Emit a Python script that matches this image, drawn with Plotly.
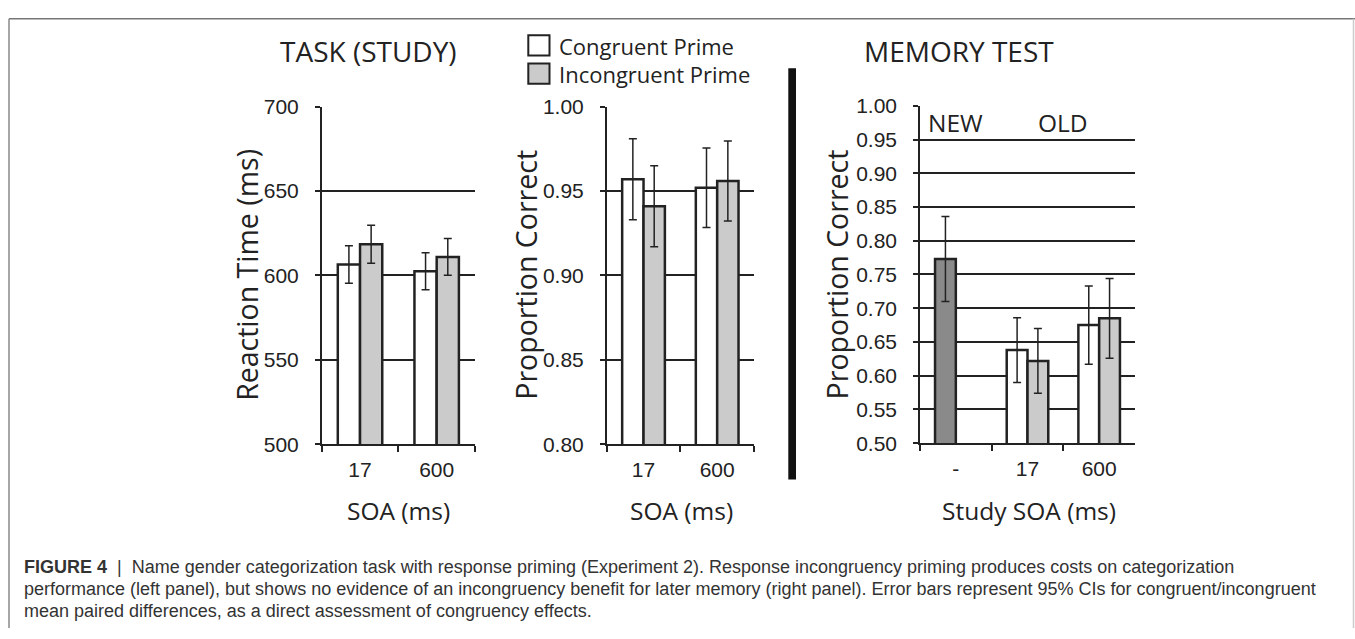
import plotly.graph_objects as go

# ---------------- data ----------------
soa = ['17', '600']
study_soa = ['-', '17', '600']

rt_congruent = [606.5, 602.5]
rt_incongruent = [618.5, 611.0]
rt_ci_congruent = [11.1, 10.9]
rt_ci_incongruent = [11.2, 10.9]

pc_congruent = [0.957, 0.952]
pc_incongruent = [0.941, 0.956]
pc_ci_congruent = [0.024, 0.0236]
pc_ci_incongruent = [0.024, 0.0237]

mem_new = [0.773]
mem_new_ci = [0.063]
mem_congruent = [0.638, 0.675]
mem_incongruent = [0.622, 0.685]
mem_ci_congruent = [0.048, 0.058]
mem_ci_incongruent = [0.048, 0.059]

legend_labels = ['Congruent Prime', 'Incongruent Prime']
caption_lines = [
    "<b>FIGURE 4</b>  |  Name gender categorization task with response priming (Experiment 2). Response incongruency priming produces costs on categorization",
    "performance (left panel), but shows no evidence of an incongruency benefit for later memory (right panel). Error bars represent 95% CIs for congruent/incongruent",
    "mean paired differences, as a direct assessment of congruency effects.",
]

# ---------------- style ----------------
W, H = 1355, 639
INK = '#222222'
WHITE = '#ffffff'
LIGHT = '#cbcbcb'
DARK = '#8a8a8a'
TITLE_FONT = 'Open Sans'
TICK_FONT = 'Liberation Sans'


def px_x(a):
    return a / W


def px_y(a):
    return 1 - a / H


def xd(a, b):
    return [a / W, b / W]


def yd(top, bottom):
    return [1 - bottom / H, 1 - top / H]


def bar(x, y, err, color, xa, ya, group):
    return go.Bar(
        x=x, y=y, xaxis=xa, yaxis=ya, offsetgroup=group,
        marker=dict(color=color, line=dict(color=INK, width=2.5)),
        error_y=dict(type='data', array=err, visible=True, color=INK,
                     thickness=1.5, width=4),
        showlegend=False, hoverinfo='skip',
    )


fig = go.Figure()
fig.add_trace(bar(soa, rt_congruent, rt_ci_congruent, WHITE, 'x', 'y', 'c'))
fig.add_trace(bar(soa, rt_incongruent, rt_ci_incongruent, LIGHT, 'x', 'y', 'i'))
fig.add_trace(bar(soa, pc_congruent, pc_ci_congruent, WHITE, 'x2', 'y2', 'c'))
fig.add_trace(bar(soa, pc_incongruent, pc_ci_incongruent, LIGHT, 'x2', 'y2', 'i'))
fig.add_trace(bar(study_soa[:1], mem_new, mem_new_ci, DARK, 'x3', 'y3', 'c'))
fig.add_trace(bar(study_soa[1:], mem_congruent, mem_ci_congruent, WHITE, 'x3', 'y3', 'c'))
fig.add_trace(bar(study_soa[1:], mem_incongruent, mem_ci_incongruent, LIGHT, 'x3', 'y3', 'i'))

xaxis_common = dict(
    type='category', showline=True, linecolor=INK, linewidth=1.5,
    ticks='outside', tickson='boundaries', ticklen=6, tickwidth=1.5, tickcolor=INK,
    showgrid=False, zeroline=False, fixedrange=True,
    tickfont=dict(family=TICK_FONT, size=21, color=INK), ticklabelstandoff=6,
)
yaxis_common = dict(
    showline=True, linecolor=INK, linewidth=1.5,
    ticks='outside', ticklen=5, tickwidth=1.5, tickcolor=INK,
    showgrid=True, gridcolor=INK, gridwidth=1.5, zeroline=False, fixedrange=True,
    tickfont=dict(family=TICK_FONT, size=21, color=INK), ticklabelstandoff=12,
)

fig.update_layout(
    width=W, height=H, margin=dict(l=0, r=0, t=0, b=0),
    paper_bgcolor='white', plot_bgcolor='white',
    barmode='group', bargap=0.42, bargroupgap=0,
    showlegend=False,
    xaxis=dict(xaxis_common, domain=xd(321.7, 475), anchor='y',
               categoryorder='array', categoryarray=soa, range=[-0.5, 1.5]),
    yaxis=dict(yaxis_common, domain=yd(98.3, 448.3), anchor='x',
               range=[500, 700], dtick=50),
    xaxis2=dict(xaxis_common, domain=xd(606.7, 754), anchor='y2',
                categoryorder='array', categoryarray=soa, range=[-0.5, 1.5]),
    yaxis2=dict(yaxis_common, domain=yd(98.3, 448.3), anchor='x2',
                range=[0.80, 1.00], dtick=0.05, tickformat='.2f'),
    xaxis3=dict(xaxis_common, domain=xd(920, 1135), anchor='y3',
                categoryorder='array', categoryarray=study_soa, range=[-0.5, 2.5]),
    yaxis3=dict(yaxis_common, domain=yd(97.3, 447.3), anchor='x3',
                range=[0.50, 1.00], dtick=0.05, tickformat='.2f'),
)

ann = []


def text(x, y, s, size, family=TITLE_FONT, angle=0, xanchor='center', color=INK):
    ann.append(dict(x=px_x(x), y=px_y(y), xref='paper', yref='paper', text=s,
                    showarrow=False, textangle=angle, xanchor=xanchor, yanchor='middle',
                    font=dict(family=family, size=size, color=color)))


# panel titles
text(368, 40, 'TASK (STUDY)', 28)
text(959, 40, 'MEMORY TEST', 28)
# y titles
text(246.7, 273, 'Reaction Time (ms)', 28.5, angle=-90)
text(526, 272.5, 'Proportion Correct', 28.5, angle=-90)
text(836.7, 272.5, 'Proportion Correct', 28.5, angle=-90)
# x titles
text(398, 517, 'SOA (ms)', 24.5)
text(681, 517, 'SOA (ms)', 24.5)
text(1028.6, 517, 'Study SOA (ms)', 24.5)
# legend labels
text(556.7, 35, legend_labels[0], 22, xanchor='left')
text(556.7, 64, legend_labels[1], 22, xanchor='left')

# NEW / OLD labels in data coordinates of the memory panel
ann.append(dict(x=0, y=0.975, xref='x3', yref='y3', text='NEW', showarrow=False,
                xanchor='center', yanchor='middle',
                font=dict(family=TITLE_FONT, size=24.5, color=INK)))
ann.append(dict(x=1.5, y=0.975, xref='x3', yref='y3', text='OLD', showarrow=False,
                xanchor='center', yanchor='middle',
                font=dict(family=TITLE_FONT, size=24.5, color=INK)))

# caption
for i, line in enumerate(caption_lines):
    text(22, 576 + i * 22.7, line, 18, family='Liberation Sans', xanchor='left', color='#333333')

fig.update_layout(annotations=ann)

shapes = []
# legend swatches
for i, c in enumerate([WHITE, LIGHT]):
    top = 24 + i * 29.3
    shapes.append(dict(type='rect', xref='paper', yref='paper',
                       x0=px_x(528.3), x1=px_x(549.5), y0=px_y(top + 21), y1=px_y(top),
                       fillcolor=c, line=dict(color=INK, width=2)))
# thick separator
shapes.append(dict(type='rect', xref='paper', yref='paper',
                   x0=px_x(788.3), x1=px_x(796), y0=px_y(485), y1=px_y(58.3),
                   fillcolor='#111111', line=dict(width=0)))
# frame
shapes.append(dict(type='line', xref='paper', yref='paper', x0=px_x(9), x1=1,
                   y0=px_y(7), y1=px_y(7), line=dict(color='#777777', width=1.5)))
shapes.append(dict(type='line', xref='paper', yref='paper', x0=px_x(9), x1=px_x(9),
                   y0=0, y1=px_y(7), line=dict(color='#888888', width=1.5)))
shapes.append(dict(type='line', xref='paper', yref='paper', x0=px_x(1353.5), x1=px_x(1353.5),
                   y0=0, y1=px_y(7), line=dict(color='#cccccc', width=1.5)))
fig.update_layout(shapes=shapes)

fig.write_html('out.html')
